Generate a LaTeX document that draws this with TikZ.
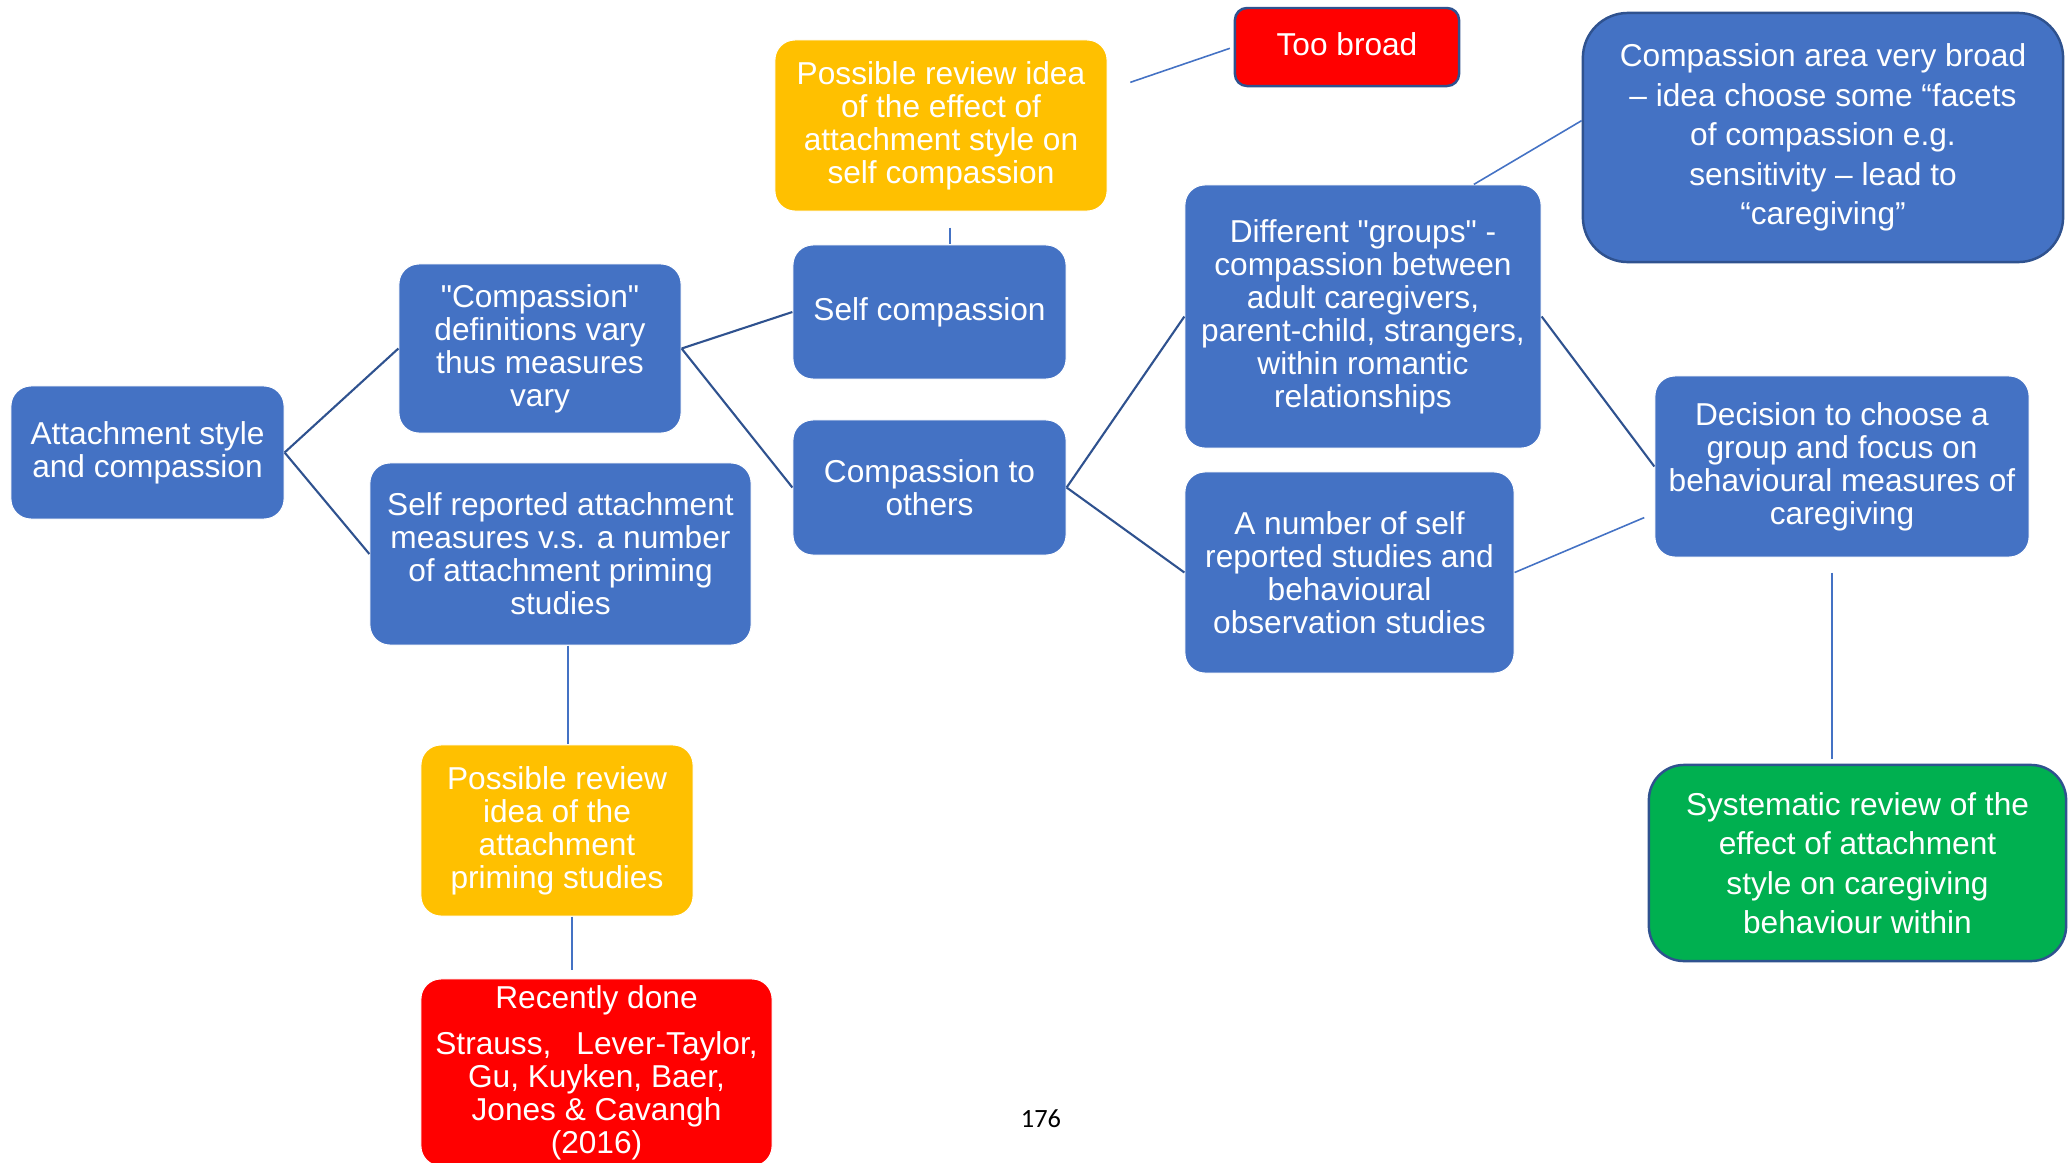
\documentclass[tikz,border=0pt]{standalone}
\usepackage{fontspec}
\setmainfont{Liberation Sans}[Ligatures=TeXOff]
\newfontfamily\pagefont{Carlito}
\definecolor{boxblue}{HTML}{4472C4}
\definecolor{edgeblue}{HTML}{2F528F}
\definecolor{ideayellow}{HTML}{FFC000}
\definecolor{stopred}{HTML}{FF0000}
\definecolor{goalgreen}{HTML}{00B050}
\tikzset{
  box/.style={fill=boxblue, draw=white, line width=0.3pt, text=white, align=center,
    rounded corners=0.2cm, inner sep=0pt, font=\fontsize{9}{9.4}\selectfont},
  idea/.style={box, fill=ideayellow},
  outlined/.style={box, draw=edgeblue, line width=0.7pt, font=\fontsize{9}{11.2}\selectfont},
  trunk/.style={draw=edgeblue, line width=0.6pt},
  twig/.style={draw=boxblue, line width=0.45pt}
}
\begin{document}
\begin{tikzpicture}[x=0.01cm, y=-0.01cm]
        \useasboundingbox (0,0) rectangle (2071,1163);
        \node[box, minimum width=2.73cm, minimum height=1.33cm] (attach) at (147.5,452.5) {Attachment style\\and compassion};
        \node[box, minimum width=2.82cm, minimum height=1.69cm] (defs) at (540,348.5) {"Compassion"\\definitions vary\\thus measures\\vary};
        \node[box, minimum width=3.81cm, minimum height=1.82cm] (selfrep) at (560.5,554) {Self reported attachment\\measures v.s. a number\\of attachment priming\\studies};
        \node[box, minimum width=2.73cm, minimum height=1.34cm] (selfc) at (929.5,312) {Self compassion};
        \node[box, minimum width=2.73cm, minimum height=1.35cm] (others) at (929.5,487.5) {Compassion to\\others};
        \node[idea, minimum width=3.32cm, minimum height=1.71cm] (ideaA) at (941,125.5) {Possible review idea\\of the effect of\\attachment style on\\self compassion};
        \node[outlined, fill=stopred, rounded corners=0.12cm, minimum width=2.24cm, minimum height=0.78cm, text depth=0.06cm] (broad) at (1347,47) {Too broad};
        \node[outlined, rounded corners=0.45cm, minimum width=4.8cm, minimum height=2.49cm] (area) at (1823,137.5) {Compassion area very broad\\– idea choose some “facets\\of compassion e.g.\\sensitivity – lead to\\“caregiving”};
        \node[box, minimum width=3.56cm, minimum height=2.63cm] (groups) at (1363,316.5) {Different "groups" -\\compassion between\\adult caregivers,\\parent-child, strangers,\\within romantic\\relationships};
        \node[box, minimum width=3.29cm, minimum height=2.01cm] (number) at (1349.5,572.5) {A number of self\\reported studies and\\behavioural\\observation studies};
        \node[box, minimum width=3.74cm, minimum height=1.81cm] (decision) at (1842,466.5) {Decision to choose a\\group and focus on\\behavioural measures of\\caregiving};
        \node[outlined, fill=goalgreen, rounded corners=0.35cm, minimum width=4.17cm, minimum height=1.96cm] (review) at (1857.5,863) {Systematic review of the\\effect of attachment\\style on caregiving\\behaviour within};
        \node[idea, minimum width=2.72cm, minimum height=1.71cm] (ideaB) at (557,830.5) {Possible review\\idea of the\\attachment\\priming studies};
        \node[box, fill=stopred, minimum width=3.51cm, minimum height=1.87cm] (done) at (596.5,1072.5) {Recently done\\[0.13cm]Strauss,\hspace{0.25cm}Lever-Taylor,\\Gu, Kuyken, Baer,\\Jones \& Cavangh\\(2016)};
        \node[font=\pagefont\fontsize{7.5}{9}\selectfont] (page) at (1041,1119) {176};
        \draw[trunk] (attach.east) -- (defs.west);
        \draw[trunk] (attach.east) -- (selfrep.west);
        \draw[trunk] (defs.east) -- (selfc.west);
        \draw[trunk] (defs.east) -- (others.west);
        \draw[trunk] (others.east) -- (groups.west);
        \draw[trunk] (others.east) -- (number.west);
        \draw[trunk] (groups.east) -- (decision.west);
        \draw[twig, shorten <=0.24cm, shorten >=0.04cm] (ideaA.12) -- (broad.west);
        \draw[twig, shorten <=0.16cm] ([xshift=0.09cm]ideaA.south) -- ([xshift=0.09cm]ideaA.south |- selfc.north);
        \draw[twig] (groups.50) -- (area.176);
        \draw[twig, shorten >=0.11cm] (number.east) -- (decision.194);
        \draw[twig, shorten <=0.15cm, shorten >=0.05cm] ([xshift=-0.1cm]decision.south) -- ([xshift=-0.1cm]decision.south |- review.north);
        \draw[twig] ([xshift=0.075cm]selfrep.south) -- ([xshift=0.075cm]selfrep.south |- ideaB.north);
        \draw[twig, shorten >=0.08cm] ([xshift=0.15cm]ideaB.south) -- ([xshift=0.15cm]ideaB.south |- done.north);
      \end{tikzpicture}
\end{document}
